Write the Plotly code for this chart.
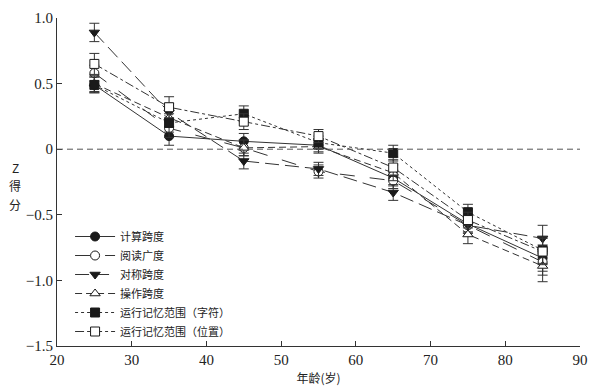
import plotly.graph_objects as go

ages = [25, 35, 45, 55, 65, 75, 85]

series_names = ["计算跨度", "阅读广度", "对称跨度", "操作跨度",
                "运行记忆范围（字符）", "运行记忆范围（位置）"]

computation_span = [0.49, 0.10, 0.06, 0.03, -0.22, -0.57, -0.83]
reading_span = [0.58, 0.16, 0.01, -0.17, -0.24, -0.58, -0.86]
symmetry_span = [0.89, 0.28, -0.09, -0.15, -0.33, -0.58, -0.68]
operation_span = [0.50, 0.24, 0.01, 0.02, -0.18, -0.65, -0.89]
running_letters = [0.49, 0.20, 0.27, 0.05, -0.03, -0.48, -0.77]
running_positions = [0.65, 0.32, 0.21, 0.10, -0.14, -0.54, -0.78]

err_computation = [0.06, 0.07, 0.06, 0.05, 0.06, 0.06, 0.10]
err_reading = [0.06, 0.07, 0.06, 0.05, 0.06, 0.06, 0.10]
err_symmetry = [0.07, 0.07, 0.06, 0.05, 0.06, 0.06, 0.10]
err_operation = [0.06, 0.07, 0.06, 0.05, 0.06, 0.07, 0.12]
err_letters = [0.06, 0.07, 0.06, 0.05, 0.06, 0.06, 0.10]
err_positions = [0.08, 0.08, 0.06, 0.05, 0.06, 0.06, 0.10]

values = [computation_span, reading_span, symmetry_span, operation_span,
          running_letters, running_positions]
errors = [err_computation, err_reading, err_symmetry, err_operation,
          err_letters, err_positions]

styles = [
    dict(symbol="circle", fill="#1a1a1a", dash="solid"),
    dict(symbol="circle", fill="white", dash="longdash"),
    dict(symbol="triangle-down", fill="#1a1a1a", dash="14px,6px"),
    dict(symbol="triangle-up", fill="white", dash="7px,4px"),
    dict(symbol="square", fill="#1a1a1a", dash="dot"),
    dict(symbol="square", fill="white", dash="dashdot"),
]

ink = "#333333"
fig = go.Figure()
for name, vals, errs, st in zip(series_names, values, errors, styles):
    fig.add_trace(go.Scatter(
        x=ages, y=vals, name=name, mode="lines+markers",
        line=dict(color=ink, width=1, dash=st["dash"]),
        marker=dict(symbol=st["symbol"], size=9, color=st["fill"],
                    line=dict(color="#1a1a1a", width=1)),
        error_y=dict(type="data", array=errs, visible=True,
                     color=ink, thickness=1, width=5),
    ))

fig.add_hline(y=0, line=dict(color="#555555", width=1, dash="6px,4px"))

serif = "Liberation Serif, serif"
cjk = "Noto Sans CJK SC"

ylabel_chars = ["Z", "得", "分"]
ylabel_pos = [0.545, 0.488, 0.431]
annotations = [dict(text=c, xref="paper", yref="paper", x=-0.08, y=p,
                    xanchor="center", yanchor="middle", showarrow=False,
                    font=dict(family=cjk, size=12, color="#222222"))
               for c, p in zip(ylabel_chars, ylabel_pos)]

fig.update_layout(
    width=592, height=378,
    margin=dict(l=49, r=20, t=10, b=40),
    paper_bgcolor="white", plot_bgcolor="white",
    showlegend=True,
    legend=dict(x=0.025, y=0.0, xanchor="left", yanchor="bottom",
                bgcolor="rgba(255,255,255,0)",
                font=dict(family=cjk, size=11, color="#222222"),
                tracegroupgap=0, itemwidth=40),
    xaxis=dict(range=[20, 90], tickvals=[20, 30, 40, 50, 60, 70, 80, 90],
               ticks="inside", ticklen=5, tickcolor=ink,
               showline=True, linecolor=ink, linewidth=1,
               showgrid=False, zeroline=False, automargin=False,
               ticklabeloverflow="allow",
               tickfont=dict(family=serif, size=15, color="#222222"),
               title=dict(text="年龄(岁)", font=dict(family=cjk, size=12, color="#222222"),
                          standoff=8)),
    yaxis=dict(range=[-1.5, 1.0], tickvals=[1.0, 0.5, 0, -0.5, -1.0, -1.5],
               ticktext=["1.0", "0.5", "0", "−0.5", "−1.0", "−1.5"],
               ticks="inside", ticklen=5, tickcolor=ink,
               showline=True, linecolor=ink, linewidth=1,
               showgrid=False, zeroline=False, automargin=False,
               ticklabeloverflow="allow",
               tickfont=dict(family=serif, size=15, color="#222222")),
    annotations=annotations,
)

fig.write_html("out.html")
